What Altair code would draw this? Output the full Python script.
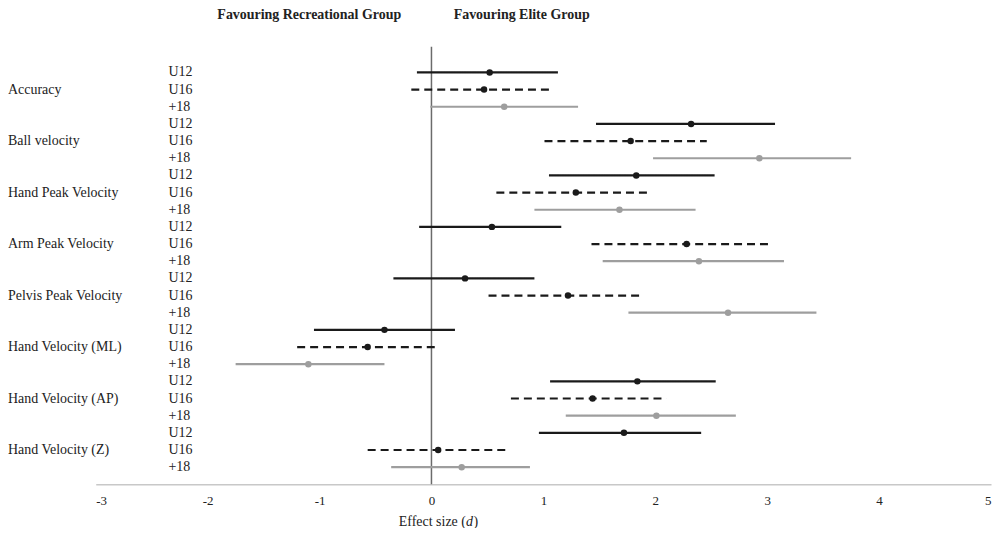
import altair as alt
import pandas as pd

variables = ["Accuracy", "Ball velocity", "Hand  Peak Velocity", "Arm  Peak Velocity",
             "Pelvis Peak Velocity", "Hand  Velocity (ML)", "Hand  Velocity (AP)", "Hand  Velocity (Z)"]
groups = ["U12", "U16", "+18"]

u12_est = [0.52, 2.32, 1.83, 0.54, 0.30, -0.42, 1.84, 1.72]
u12_lo = [-0.13, 1.47, 1.05, -0.11, -0.34, -1.05, 1.06, 0.96]
u12_hi = [1.13, 3.07, 2.53, 1.16, 0.92, 0.21, 2.54, 2.41]

u16_est = [0.47, 1.78, 1.29, 2.28, 1.22, -0.57, 1.44, 0.06]
u16_lo = [-0.18, 1.01, 0.58, 1.43, 0.51, -1.20, 0.71, -0.57]
u16_hi = [1.09, 2.46, 1.94, 3.02, 1.87, 0.07, 2.10, 0.68]

o18_est = [0.65, 2.93, 1.68, 2.39, 2.65, -1.10, 2.01, 0.27]
o18_lo = [-0.01, 1.98, 0.92, 1.53, 1.76, -1.75, 1.20, -0.36]
o18_hi = [1.31, 3.75, 2.36, 3.15, 3.44, -0.42, 2.72, 0.88]

x_ticks = [-3, -2, -1, 0, 1, 2, 3, 4, 5]

series = {"U12": (u12_est, u12_lo, u12_hi),
          "U16": (u16_est, u16_lo, u16_hi),
          "+18": (o18_est, o18_lo, o18_hi)}

rows = []
for i, v in enumerate(variables):
    for j, g in enumerate(groups):
        est, lo, hi = series[g]
        rows.append({"variable": v, "group": g, "row": i * 3 + j,
                     "est": est[i], "lo": lo[i], "hi": hi[i]})
df = pd.DataFrame(rows)
var_df = pd.DataFrame({"variable": variables, "row": [i * 3 + 1 for i in range(len(variables))]})

FONT = "Liberation Serif"
yscale = alt.Scale(domain=[-1.5, 24], reverse=True)
xscale = alt.Scale(domain=[-3, 5], nice=False)
color_scale = alt.Scale(domain=groups, range=["#1a1a1a", "#1a1a1a", "#9e9e9e"])
dash_scale = alt.Scale(domain=groups, range=[[1, 0], [8, 5], [1, 0]])
width_scale = alt.Scale(domain=groups, range=[2.2, 2.2, 1.8])

base = alt.Chart(df)

zero = alt.Chart(pd.DataFrame({"z": [0]})).mark_rule(color="#6b6b6b", strokeWidth=1.5).encode(
    x=alt.X("z:Q", scale=xscale,
            axis=alt.Axis(values=x_ticks, grid=False, ticks=False, domainColor="#c8c8c8",
                          domainWidth=1.5, labelFont=FONT, labelFontSize=13, labelColor="#222",
                          labelPadding=10, labelExpr="'' + datum.value", title=None))
)

ci = base.mark_rule().encode(
    x=alt.X("lo:Q", scale=xscale),
    x2="hi:Q",
    y=alt.Y("row:Q", scale=yscale, axis=None),
    color=alt.Color("group:N", scale=color_scale, legend=None),
    strokeDash=alt.StrokeDash("group:N", scale=dash_scale, legend=None),
    strokeWidth=alt.StrokeWidth("group:N", scale=width_scale, legend=None),
)

pts = base.mark_circle(size=42, opacity=1).encode(
    x=alt.X("est:Q", scale=xscale),
    y=alt.Y("row:Q", scale=yscale),
    color=alt.Color("group:N", scale=alt.Scale(domain=groups, range=["#000", "#000", "#9e9e9e"]), legend=None),
)

grp_labels = base.mark_text(align="left", baseline="middle", font=FONT, fontSize=14, color="#222").encode(
    x=alt.value(73),
    y=alt.Y("row:Q", scale=yscale),
    text="group:N",
)

var_labels = alt.Chart(var_df).mark_text(align="left", baseline="middle", font=FONT, fontSize=14, color="#222").encode(
    x=alt.value(-88),
    y=alt.Y("row:Q", scale=yscale),
    text="variable:N",
)

head1 = alt.Chart(pd.DataFrame({"t": ["Favouring Recreational Group"]})).mark_text(
    align="left", baseline="middle", font=FONT, fontSize=14, fontWeight="bold", color="#222"
).encode(x=alt.value(122), y=alt.value(-32), text="t:N")

head2 = alt.Chart(pd.DataFrame({"t": ["Favouring Elite Group"]})).mark_text(
    align="left", baseline="middle", font=FONT, fontSize=14, fontWeight="bold", color="#222"
).encode(x=alt.value(359), y=alt.value(-32), text="t:N")

t1 = alt.Chart(pd.DataFrame({"t": ["Effect size ("]})).mark_text(
    align="left", baseline="middle", font=FONT, fontSize=14, color="#222"
).encode(x=alt.value(304), y=alt.value(477), text="t:N")
t2 = alt.Chart(pd.DataFrame({"t": ["d"]})).mark_text(
    align="left", baseline="middle", font=FONT, fontSize=14, fontStyle="italic", color="#222"
).encode(x=alt.value(371.5), y=alt.value(477), text="t:N")
t3 = alt.Chart(pd.DataFrame({"t": [")"]})).mark_text(
    align="left", baseline="middle", font=FONT, fontSize=14, color="#222"
).encode(x=alt.value(379), y=alt.value(477), text="t:N")

chart = alt.layer(zero, ci, pts, grp_labels, var_labels, head1, head2, t1, t2, t3).properties(
    width=898, height=439,
    autosize=alt.AutoSizeParams(type="none"),
    padding={"left": 88, "top": 38, "right": 4, "bottom": 43},
    background="white",
).configure_view(stroke=None)

chart.save("out.html", embed_options={"renderer": "svg", "actions": False})
